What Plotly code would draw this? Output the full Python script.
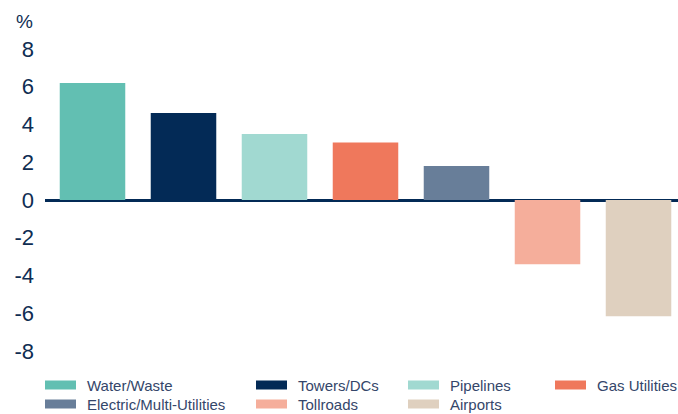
import plotly.graph_objects as go

categories = ["Water/Waste", "Towers/DCs", "Pipelines", "Gas Utilities",
              "Electric/Multi-Utilities", "Tollroads", "Airports"]
values = [6.2, 4.6, 3.5, 3.05, 1.8, -3.4, -6.15]
colors = ["#62bfb2", "#032a56", "#a1d9d1", "#ef785c", "#687e99", "#f5ae9b", "#dfd0bf"]
tick_vals = [-8, -6, -4, -2, 0, 2, 4, 6, 8]
tick_text = [str(v) for v in tick_vals]

# legend layout: (column x px, row)
legend_cols_px = [45, 256, 408, 555]
legend_order = [(0, 0), (1, 0), (2, 0), (3, 0), (0, 1), (1, 1), (2, 1)]

W, H = 678, 414
ml, mr, mt, mb = 45, 0, 30, 44
pw = W - ml - mr
ph = H - mt - mb


def px_to_paper_x(px):
    return (px - ml) / pw


def py_to_paper_y(py):
    return (H - mb - py) / ph


fig = go.Figure()
fig.add_trace(go.Bar(
    x=list(range(len(categories))), y=values, marker_color=colors,
    marker_line_width=0, width=0.72, showlegend=False,
))

fig.update_layout(
    width=W, height=H,
    margin=dict(l=ml, r=mr, t=mt, b=mb),
    paper_bgcolor="white", plot_bgcolor="white",
    xaxis=dict(range=[-0.522, 6.434], showticklabels=False, showgrid=False,
               zeroline=False, showline=False, ticks=""),
    yaxis=dict(range=[-9, 9], tickvals=tick_vals, ticktext=tick_text,
               showgrid=False, zeroline=True, zerolinecolor="#032a56",
               zerolinewidth=3, showline=False, ticks="",
               ticklabelstandoff=10,
               tickfont=dict(family="Liberation Sans, Arial, sans-serif",
                             size=22, color="#0f2d52")),
    font=dict(family="Liberation Sans, Arial, sans-serif"),
)

fig.add_annotation(text="%", xref="paper", yref="paper",
                   x=px_to_paper_x(24), y=py_to_paper_y(21),
                   showarrow=False, xanchor="center", yanchor="middle",
                   font=dict(size=19, color="#0f2d52",
                             family="Liberation Sans, Arial, sans-serif"))

row_y = [385, 404]
for i, (cat, col) in enumerate(zip(categories, colors)):
    c, r = legend_order[i]
    x0 = legend_cols_px[c]
    yc = row_y[r]
    fig.add_shape(type="rect", xref="paper", yref="paper",
                  x0=px_to_paper_x(x0), x1=px_to_paper_x(x0 + 31),
                  y0=py_to_paper_y(yc + 4.5), y1=py_to_paper_y(yc - 4.5),
                  fillcolor=col, line_width=0, layer="above")
    fig.add_annotation(text=cat, xref="paper", yref="paper",
                       x=px_to_paper_x(x0 + 40), y=py_to_paper_y(yc),
                       showarrow=False, xanchor="left", yanchor="middle",
                       font=dict(size=15, color="#34466a",
                                 family="Liberation Sans, Arial, sans-serif"))

fig.write_html("out.html")
